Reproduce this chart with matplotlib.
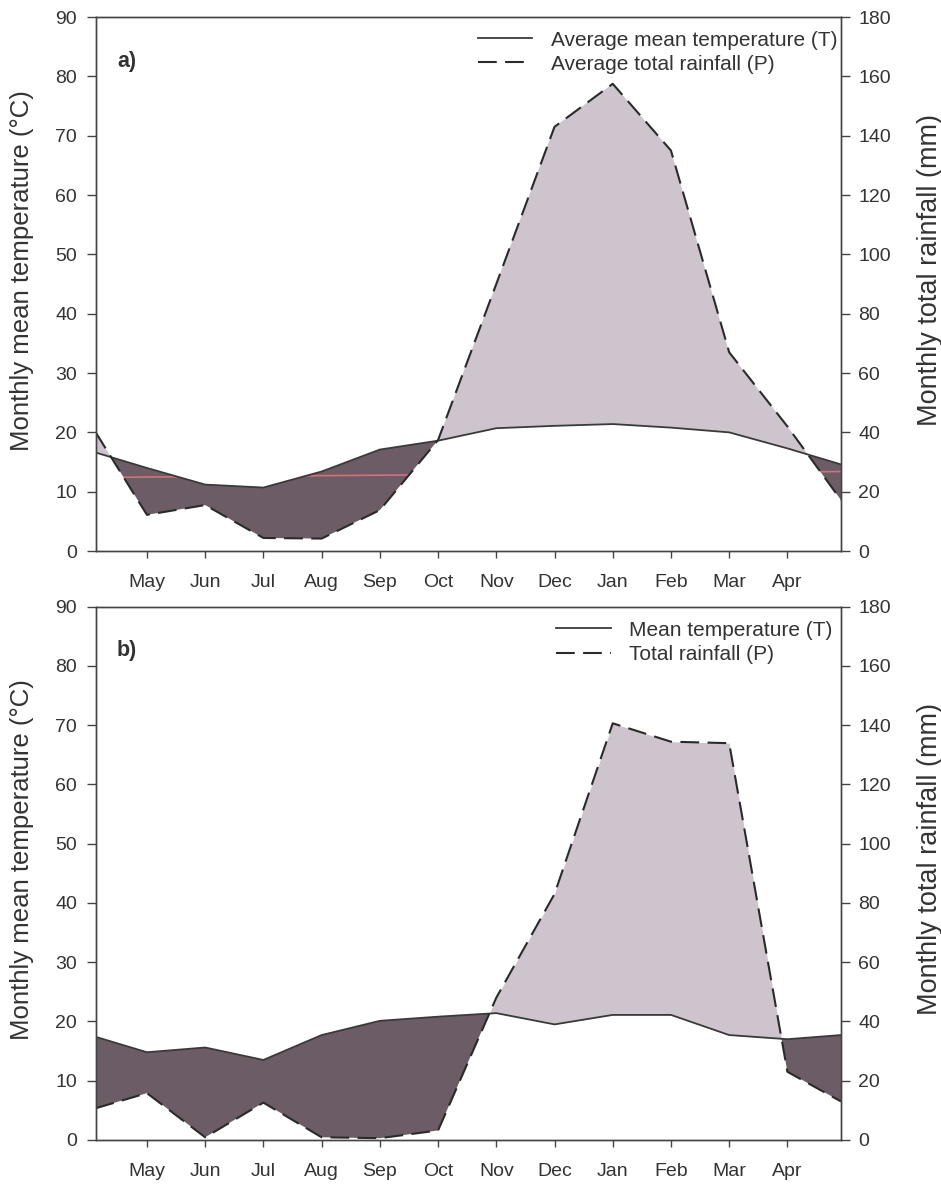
import numpy as np
import matplotlib.pyplot as plt
from matplotlib.lines import Line2D
from matplotlib.path import Path

plt.rcParams['font.family'] = ['Liberation Sans', 'DejaVu Sans']

# Month ticks; the first and last value of each series sit on the plot edges
months = ['May', 'Jun', 'Jul', 'Aug', 'Sep', 'Oct', 'Nov', 'Dec', 'Jan', 'Feb', 'Mar', 'Apr']
x_start, x_end = 0.12, 12.92

# a) long-term averages: temperature (C) and rainfall (mm)
temp_a = [16.6, 14.0, 11.2, 10.7, 13.4, 17.1, 18.6, 20.7, 21.1, 21.4, 20.8, 20.0, 17.3, 14.6]
rain_a = [40.0, 12.2, 15.5, 4.4, 4.2, 13.8, 37.4, 90.0, 143.0, 157.5, 135.0, 67.0, 42.0, 17.2]
ref_a = [12.4, 13.4]  # faint red line visible inside the dry area

# b) study year
temp_b = [17.4, 14.8, 15.6, 13.5, 17.7, 20.1, 20.8, 21.4, 19.5, 21.1, 21.1, 17.7, 17.0, 17.7]
rain_b = [10.7, 15.8, 0.9, 12.6, 0.9, 0.6, 3.2, 48.0, 83.0, 140.6, 134.4, 133.9, 23.0, 13.0]

LIGHT = '#cdc4cd'
DARK = '#6c5c65'
TXT = '#333333'
SPINE = '#444444'


def plot_panel(ax, temp, rain, letter, labels, legend_anchor, ref=None):
    x = np.concatenate([[x_start], np.arange(1, 13), [x_end]])
    temp = np.asarray(temp)
    rain = np.asarray(rain)
    rain_t = rain / 2.0  # rainfall on the temperature scale (P = 2T)

    # humid and dry periods
    ax.fill_between(x, temp, rain_t, where=rain_t >= temp, interpolate=True,
                    color=LIGHT, lw=0)
    dry = ax.fill_between(x, temp, rain_t, where=rain_t <= temp, interpolate=True,
                          color=DARK, lw=0)
    if ref is not None:
        ln, = ax.plot([x_start, x_end], ref, color='#d4707c', lw=1.2)
        ln.set_clip_path(Path.make_compound_path(*dry.get_paths()), ax.transData)

    ax.plot(x, temp, color='#3a3a3a', lw=1.3)

    ax2 = ax.twinx()
    ax2.plot(x, rain, color='#2a2a2a', lw=1.5, ls=(0, (9, 4)))

    ax.set_xlim(x_start, x_end)
    ax.set_xticks(np.arange(1, 13))
    ax.set_xticklabels(months)
    ax.set_ylim(0, 90)
    ax.set_yticks(range(0, 91, 10))
    ax2.set_ylim(0, 180)
    ax2.set_yticks(range(0, 181, 20))

    ax.tick_params(axis='x', length=5, width=1, pad=11.5, labelsize=14,
                   color=SPINE, labelcolor=TXT)
    ax.tick_params(axis='y', length=6.5, width=1, pad=6.8, labelsize=14,
                   color=SPINE, labelcolor=TXT)
    ax2.tick_params(axis='y', length=6.5, width=1, pad=6, labelsize=14,
                    color=SPINE, labelcolor=TXT)
    for a in (ax, ax2):
        for s in a.spines.values():
            s.set_color(SPINE)
            s.set_linewidth(1.0)

    ax.set_ylabel('Monthly mean temperature (°C)', fontsize=18.5, color=TXT, va='center')
    ax.yaxis.set_label_coords(-0.099, 0.526)
    ax2.set_ylabel('Monthly total rainfall (mm)', fontsize=19.5, color=TXT, va='center',
                   rotation=90)
    ax2.yaxis.set_label_coords(1.119, 0.526)

    ax.text(0.0286, 0.9176, letter, transform=ax.transAxes, fontsize=15.5,
            fontweight='bold', va='center', ha='left', color=TXT)

    handles = [Line2D([], [], color='#3a3a3a', lw=1.3),
               Line2D([], [], color='#2a2a2a', lw=1.5, ls=(0, (9, 4)))]
    leg = ax2.legend(handles, labels, loc='upper right', bbox_to_anchor=legend_anchor,
                     frameon=False, fontsize=15, handlelength=2.6, handletextpad=0.87,
                     labelspacing=0.25, borderpad=0, borderaxespad=0)
    for t in leg.get_texts():
        t.set_color(TXT)


fig = plt.figure(figsize=(9.41, 11.84), dpi=100)
ax_a = fig.add_axes([0.1017, 0.5346, 0.792, 0.451])
ax_b = fig.add_axes([0.1017, 0.0372, 0.792, 0.4505])

plot_panel(ax_a, temp_a, rain_a, 'a)',
           ['Average mean temperature (T)', 'Average total rainfall (P)'],
           (0.9947, 0.9747), ref=ref_a)
plot_panel(ax_b, temp_b, rain_b, 'b)',
           ['Mean temperature (T)', 'Total rainfall (P)'],
           (0.988, 0.9737))

plt.savefig('out.png', dpi=100)
